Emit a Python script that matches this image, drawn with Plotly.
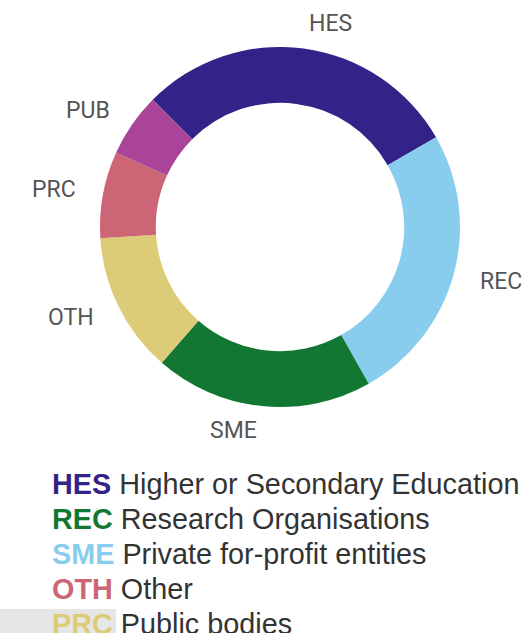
import math

import plotly.graph_objects as go

W, H = 527, 633

codes = ["HES", "REC", "SME", "OTH", "PRC", "PUB"]
shares = [29.2, 25.1, 19.6, 12.6, 7.8, 5.7]
slice_colors = ["#332288", "#88CCEE", "#117733", "#DDCC77", "#CC6677", "#AA4499"]

legend_codes = ["HES", "REC", "SME", "OTH", "PRC"]
legend_names = [
    "Higher or Secondary Education",
    "Research Organisations",
    "Private for-profit entities",
    "Other",
    "Public bodies",
]
legend_colors = ["#332288", "#117733", "#88CCEE", "#CC6677", "#DDCC77"]

# donut geometry in pixels
cx, cy, r_out = 280, 227, 180
start_deg = -45
label_r = r_out + 25

fig = go.Figure(
    go.Pie(
        labels=codes,
        values=shares,
        hole=0.69,
        sort=False,
        direction="clockwise",
        rotation=start_deg,
        marker=dict(colors=slice_colors, line=dict(width=0)),
        textinfo="none",
        showlegend=False,
        domain=dict(
            x=[(cx - r_out) / W, (cx + r_out) / W],
            y=[1 - (cy + r_out) / H, 1 - (cy - r_out) / H],
        ),
    )
)

annotations = []
total = sum(shares)
acc = 0
for code, v in zip(codes, shares):
    mid = math.radians(start_deg + (acc + v / 2) / total * 360)
    acc += v
    px = cx + label_r * math.sin(mid)
    py = cy - label_r * math.cos(mid)
    annotations.append(dict(
        x=px / W, y=1 - py / H, xref="paper", yref="paper",
        text=code, showarrow=False,
        xanchor="left" if math.sin(mid) > 0 else "right", yanchor="middle",
        font=dict(family="Roboto", size=23, color="#555555"),
    ))

row_y0, row_dy = 484, 34.9
for i, (c, name, col) in enumerate(zip(legend_codes, legend_names, legend_colors)):
    annotations.append(dict(
        x=50 / W, y=1 - (row_y0 + i * row_dy) / H, xref="paper", yref="paper",
        text=f"<b><span style='color:{col}'>{c}</span></b> {name}",
        showarrow=False, xanchor="left", yanchor="middle",
        font=dict(family="Liberation Sans", size=28.8, color="#333333"),
    ))

fig.update_layout(
    width=W, height=H,
    margin=dict(l=0, r=0, t=0, b=0),
    paper_bgcolor="white",
    annotations=annotations,
    shapes=[dict(
        type="rect", xref="paper", yref="paper", layer="below",
        x0=0, x1=116 / W, y0=1 - 640 / H, y1=1 - 609 / H,
        fillcolor="#e6e6e6", line=dict(width=0),
    )],
)

fig.write_html(
    "out.html",
    config={"displayModeBar": False},
    post_script="document.body.style.margin='0';",
)
